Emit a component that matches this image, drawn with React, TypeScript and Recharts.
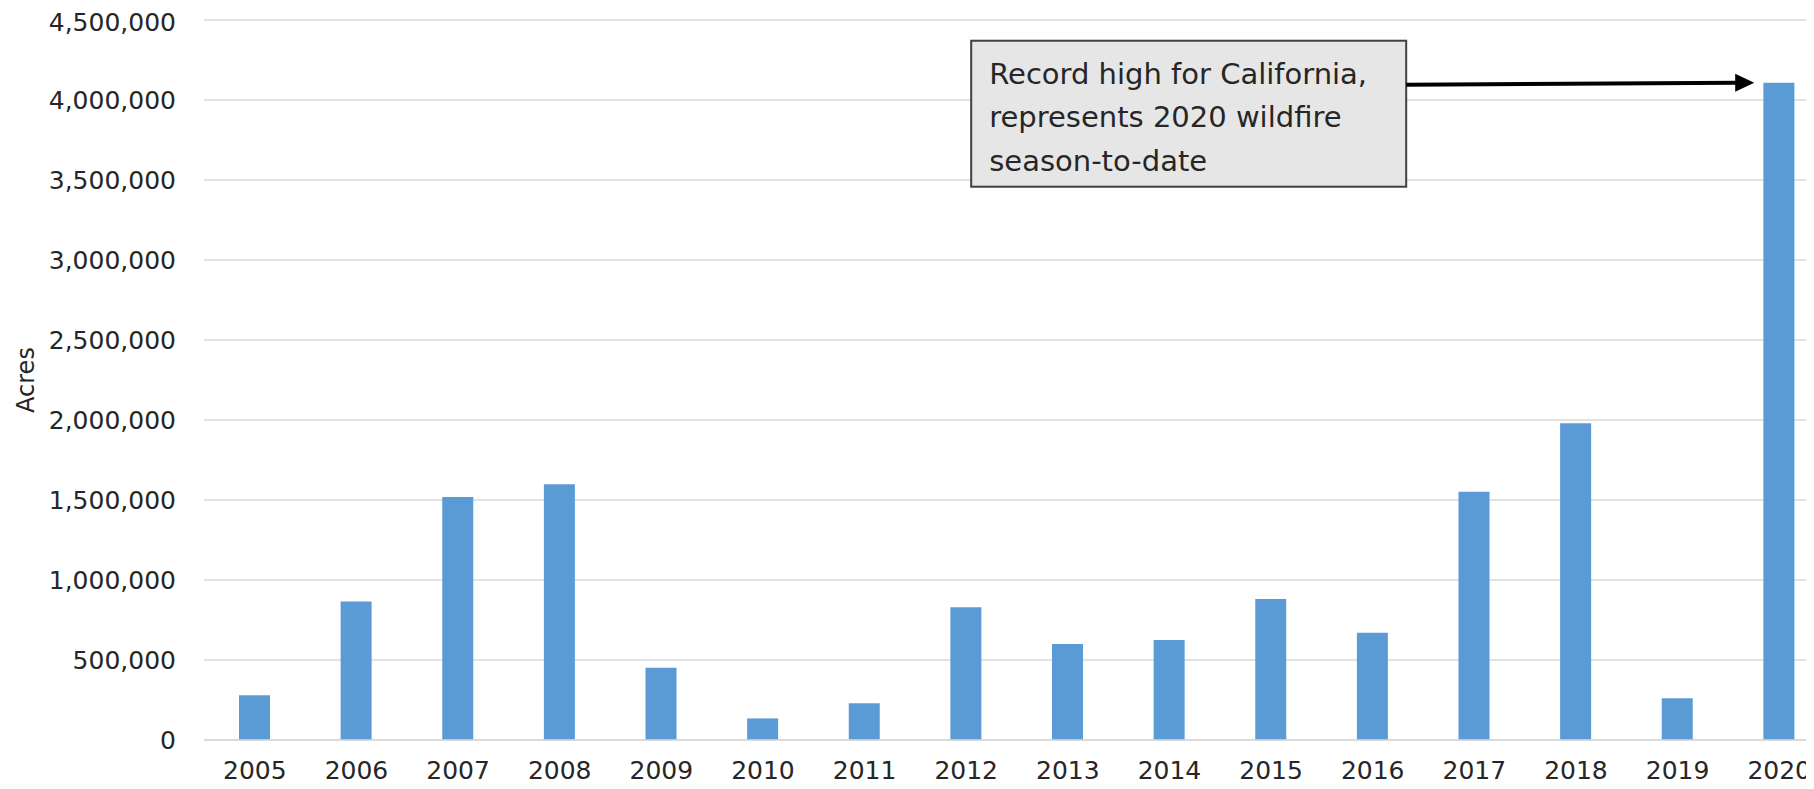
import React from "react";
import { BarChart, Bar, XAxis, YAxis, CartesianGrid, ReferenceDot } from "recharts";

// acres burned in California per year
const years = ["2005", "2006", "2007", "2008", "2009", "2010", "2011", "2012", "2013", "2014", "2015", "2016", "2017", "2018", "2019", "2020"];
const acres = [279000, 865000, 1519000, 1598000, 452000, 135000, 229000, 829000, 600000, 625000, 881000, 671000, 1552000, 1979000, 261000, 4108000];
const yTicks = [0, 500000, 1000000, 1500000, 2000000, 2500000, 3000000, 3500000, 4000000, 4500000];
const noteLines = ["Record high for California,", "represents 2020 wildfire", "season-to-date"];

const data = years.map((year, i) => ({ year, acres: acres[i] }));

const font = "DejaVu Sans, sans-serif";
const textColor = "#262626";

// box + arrow drawn relative to the 2020 bar top
const Note = (props: any) => {
    const { cx, cy } = props;
    if (cx == null || cy == null) return null;
    const boxL = cx - 808;
    const boxR = cx - 373;
    const tip = cx - 25;
    return (
        <g>
            <rect x={boxL} y={cy - 42} width={boxR - boxL} height={146} fill="#e7e6e6" stroke="#404040" strokeWidth={2} />
            {noteLines.map((line, i) => (
                <text key={i} x={boxL + 18} y={cy + 1 + i * 43.5} fontFamily={font} fontSize={29} fill={textColor}>
                    {line}
                </text>
            ))}
            <line x1={boxR} y1={cy + 2} x2={tip - 16} y2={cy} stroke="#000" strokeWidth={4} />
            <polygon points={`${tip},${cy} ${tip - 19},${cy - 9} ${tip - 19},${cy + 9}`} fill="#000" />
        </g>
    );
};

const App = () => {
    return (
        <div style={{ width: 1806, height: 781, overflow: "hidden" }}>
            <BarChart width={1822} height={781} data={data} margin={{ top: 12, right: 0, bottom: 9, left: 0 }}>
                <CartesianGrid vertical={false} stroke="#d9d9d9" strokeWidth={1.5} />
                <XAxis
                    dataKey="year"
                    height={40}
                    tickLine={false}
                    axisLine={{ stroke: "#d9d9d9", strokeWidth: 1.5 }}
                    tickMargin={15}
                    tick={{ fontFamily: font, fontSize: 25, fill: textColor }}
                    interval={0}
                />
                <YAxis
                    width={196}
                    domain={[0, 4500000]}
                    ticks={yTicks}
                    tickLine={false}
                    axisLine={false}
                    tickMargin={22}
                    tickFormatter={(v: number) => v.toLocaleString("en-US")}
                    tick={{ fontFamily: font, fontSize: 25, fill: textColor }}
                    label={{
                        value: "Acres",
                        angle: -90,
                        position: "insideLeft",
                        offset: 17,
                        style: { textAnchor: "middle", fontFamily: font, fontSize: 24, fill: textColor },
                    }}
                />
                <Bar dataKey="acres" fill="#5b9bd5" barSize={31} isAnimationActive={false} />
                <ReferenceDot x="2020" y={acres[acres.length - 1]} shape={Note} ifOverflow="visible" />
            </BarChart>
        </div>
    );
};

export default App;
